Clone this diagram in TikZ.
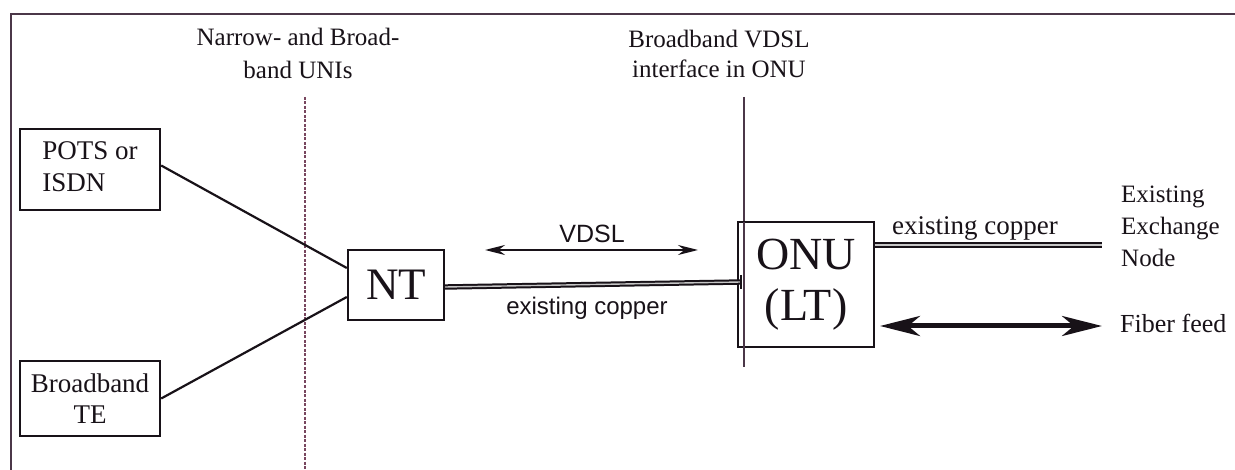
\documentclass[tikz,border=0pt]{standalone}
\usepackage{fontspec}
\setmainfont{Liberation Serif}
\setsansfont{Liberation Sans}
\usetikzlibrary{arrows.meta,calc}
\definecolor{ink}{RGB}{24,18,24}
\definecolor{framec}{RGB}{75,55,72}
\definecolor{dashc}{RGB}{120,70,95}
\tikzset{
  box/.style={draw=ink, line width=2.4pt, inner sep=0pt, align=center, text=ink},
  lbl/.style={inner sep=0pt, text=ink},
  conn/.style={draw=ink, line width=2.2pt},
  copper/.style={draw=ink, line width=2pt, double=gray!45, double distance=1.4pt},
  divider/.style={draw=framec, line width=2pt},
  dotdiv/.style={draw=dashc, line width=1.4pt, dash pattern=on 3pt off 1.5pt},
  vdslarrow/.style={draw=ink, line width=1.8pt, {Stealth[length=20pt,width=10pt]}-{Stealth[length=20pt,width=10pt]}},
  fiberarrow/.style={draw=ink, line width=5pt, {Stealth[length=40pt,width=20pt,inset=12pt]}-{Stealth[length=40pt,width=20pt,inset=12pt]}},
}
\begin{document}
\begin{tikzpicture}[x=1pt,y=-1pt]
\useasboundingbox (0,0) rectangle (1235,470);
% frame
\coordinate (fb) at (11,472);
\coordinate (ftl) at (11,14);
\coordinate (ftr) at (1237,14);
\draw[divider] (fb) -- (ftl) -- (ftr);

% header labels
\node[lbl, align=center, anchor=north, font=\fontsize{25}{33}\selectfont] (h1) at (298,28) {Narrow- and Broad-\\band UNIs};
\node[lbl, align=center, anchor=north, font=\fontsize{25}{30}\selectfont] (h2) at (719,30) {Broadband VDSL\\interface in ONU};

% divider lines
\coordinate (d1t) at (305,97);
\coordinate (d1b) at (305,472);
\draw[dotdiv] (d1t) -- (d1b);
\coordinate (d2t) at (744,97);
\coordinate (d2b) at (744,367);
\draw[divider] (d2t) -- (d2b);

% boxes
\node[box, minimum width=140pt, minimum height=81pt, font=\fontsize{27}{32}\selectfont] (pots) at (90,169.5) {\begin{tabular}{@{}l@{}}POTS or\\ISDN\end{tabular}};
\node[box, minimum width=140pt, minimum height=75pt, font=\fontsize{27}{31}\selectfont] (te) at (90,398.5) {Broadband\\TE};
\node[box, minimum width=96pt, minimum height=70pt, font=\fontsize{45}{50}\selectfont] (nt) at (396,285) {NT};
\node[box, fill=white, minimum width=136pt, minimum height=125pt, font=\fontsize{46}{51}\selectfont] (onu) at (806,284.5) {ONU\\(LT)};
\draw[divider] (744,222) -- (d2b);

% connectors
\draw[conn] ($(pots.east)+(0,-4)$) -- ($(nt.west)+(0,-17)$);
\draw[conn] (te.east) -- ($(nt.west)+(0,12)$);

\coordinate (cu1) at (741,282);
\draw[copper] ($(nt.east)+(0,2)$) -- (cu1);
\draw[ink, line width=2.5pt] ($(cu1)+(0,-7)$) -- ($(cu1)+(0,7)$);

\coordinate (exch) at (1102,245);
\draw[copper] (onu.east |- exch) -- (exch);

\coordinate (va) at (485,250);
\coordinate (vb) at (698,250);
\draw[vdslarrow] (va) -- (vb);

\coordinate (fa) at (880,326);
\coordinate (fbb) at (1102,326);
\draw[fiberarrow] (fa) -- (fbb);

% labels
\node[lbl, anchor=base, font=\sffamily\fontsize{25}{30}\selectfont] (vdsl) at (592,243) {VDSL};
\node[lbl, anchor=base, font=\sffamily\fontsize{24}{30}\selectfont] (cuA) at (587,315) {existing copper};
\node[lbl, anchor=base, font=\fontsize{27}{30}\selectfont] (cuB) at (975,235) {existing copper};
\node[lbl, anchor=north west, align=left, font=\fontsize{25}{32}\selectfont] (exl) at (1121,186) {Existing\\Exchange\\Node};
\node[lbl, anchor=base west, font=\fontsize{26}{30}\selectfont] (fib) at (1120,333) {Fiber feed};
\end{tikzpicture}
\end{document}
